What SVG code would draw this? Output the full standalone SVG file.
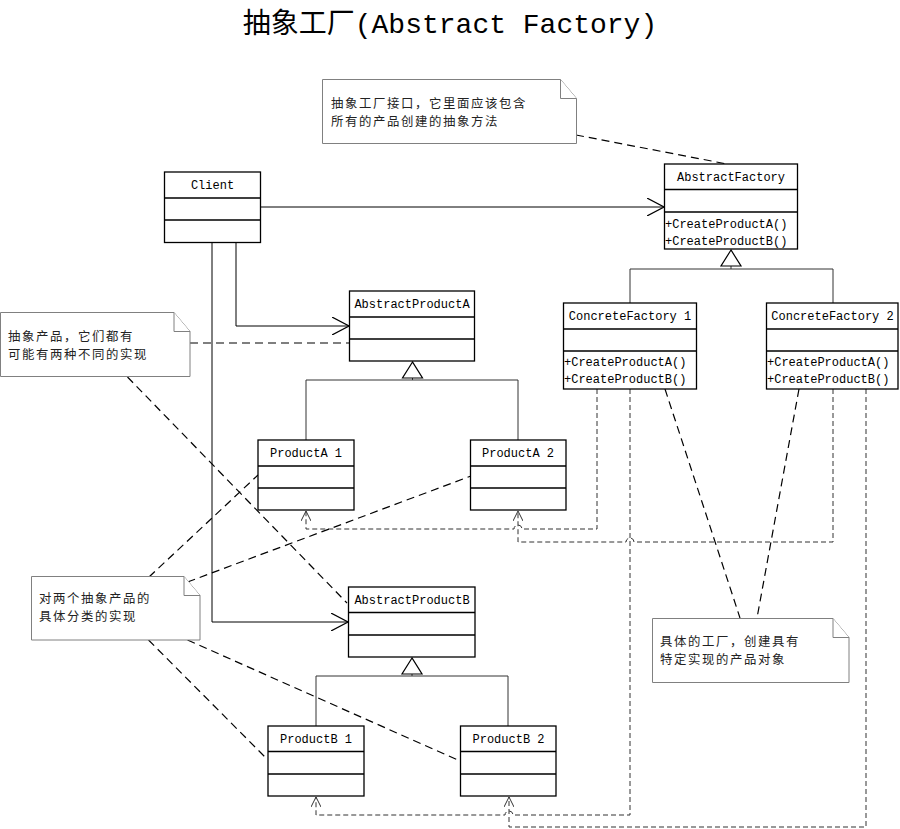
<svg xmlns="http://www.w3.org/2000/svg" width="900" height="829" viewBox="0 0 900 829">
<defs>
<style>
.box{fill:#fff;stroke:#000;stroke-width:1.3}
.div{stroke:#000;stroke-width:1.3}
.t{font-family:"Liberation Mono","Noto Sans CJK SC",monospace;font-size:12px;fill:#000}
.c{text-anchor:middle}
.note{fill:#fff;stroke:#808080;stroke-width:1}
.nt{font-family:"Noto Sans CJK SC",sans-serif;font-size:12.4px;letter-spacing:1.6px;fill:#222}
.assoc{fill:none;stroke:#000;stroke-width:1}
.gen{fill:none;stroke:#333;stroke-width:1}
.tri{fill:#fff;stroke:#000;stroke-width:1.2}
.dep{fill:none;stroke:#333;stroke-width:1;stroke-dasharray:5,3}
.nl{fill:none;stroke:#000;stroke-width:1.2;stroke-dasharray:8,5}
</style>
<marker id="big" markerUnits="userSpaceOnUse" viewBox="0 0 17 18" refX="17" refY="9" markerWidth="17" markerHeight="18" orient="auto">
<path d="M0,0 L17,9 L0,18" fill="none" stroke="#000" stroke-width="1.2" stroke-dasharray="none"/>
</marker>
<marker id="small" markerUnits="userSpaceOnUse" viewBox="0 0 10 10" refX="10" refY="5" markerWidth="10" markerHeight="10" orient="auto">
<path d="M0,0 L10,5 L0,10" fill="none" stroke="#333" stroke-width="1" stroke-dasharray="none"/>
</marker>
</defs>
<rect width="900" height="829" fill="#fff"/>
<text x="450" y="33" text-anchor="middle" style="font-family:'Liberation Mono','Noto Sans CJK SC',monospace;font-size:28px;fill:#000">抽象工厂(Abstract Factory)</text>

<g id="connectors">
<path class="assoc" d="M261,207 H664" marker-end="url(#big)"/>
<path class="assoc" d="M236,242 V326 H349" marker-end="url(#big)"/>
<path class="assoc" d="M212,242 V622 H348" marker-end="url(#big)"/>
<path class="gen" d="M731,266 V269 M630,303 V269 H833 V303"/>
<polygon class="tri" points="731,250 721,266 741,266"/>
<path class="gen" d="M412.5,378 V380 M306,440 V380 H518 V440"/>
<polygon class="tri" points="412.5,362 402.5,378 422.5,378"/>
<path class="gen" d="M412,674 V676 M316,726 V676 H508 V726"/>
<polygon class="tri" points="412,658 402,674 422,674"/>
<path class="dep" d="M597,389 V529 H522 A4,4 0 0 0 514,529 H306 V511" marker-end="url(#small)"/>
<path class="dep" d="M833,389 V542 H634 A4,4 0 0 0 626,542 H518 V511" marker-end="url(#small)"/>
<path class="dep" d="M630,389 V815 H513 A4,4 0 0 0 505,815 H316 V797" marker-end="url(#small)"/>
<path class="dep" d="M866,389 V827 H509 V797" marker-end="url(#small)"/>
<path class="nl" d="M576,135 L727,164"/>
<path class="nl" d="M190,343 H349"/>
<path class="nl" d="M127.5,377 L347,603"/>
<path class="nl" d="M149,577 L258,475"/>
<path class="nl" d="M187.5,582 L471,476"/>
<path class="nl" d="M148.5,640 L265,757"/>
<path class="nl" d="M187.5,640 L460,761"/>
<path class="nl" d="M665,389 L740,618"/>
<path class="nl" d="M799,389 L757,618"/>
</g>

<g id="note-abstract-factory">
<path class="note" d="M322.5,79.5 H560.5 L576.5,98.5 V143.5 H322.5 Z"/>
<path class="note" d="M560.5,79.5 V98.5 H576.5" fill="none"/>
<text class="nt" x="331" y="107.5">抽象工厂接口，它里面应该包含</text>
<text class="nt" x="331" y="125.5">所有的产品创建的抽象方法</text>
</g>
<g id="note-abstract-product">
<path class="note" d="M0.5,312.5 H174 L190,331.5 V376.5 H0.5 Z"/>
<path class="note" d="M174,312.5 V331.5 H190" fill="none"/>
<text class="nt" x="8" y="340.5">抽象产品，它们都有</text>
<text class="nt" x="8" y="358.5">可能有两种不同的实现</text>
</g>
<g id="note-concrete-products">
<path class="note" d="M31.5,576.5 H184 L200,595.5 V640 H31.5 Z"/>
<path class="note" d="M184,576.5 V595.5 H200" fill="none"/>
<text class="nt" x="39" y="603">对两个抽象产品的</text>
<text class="nt" x="39" y="621">具体分类的实现</text>
</g>
<g id="note-concrete-factory">
<path class="note" d="M652.5,618.5 H833 L849,637.5 V682.5 H652.5 Z"/>
<path class="note" d="M833,618.5 V637.5 H849" fill="none"/>
<text class="nt" x="660" y="645.5">具体的工厂，创建具有</text>
<text class="nt" x="660" y="663.5">特定实现的产品对象</text>
</g>

<g id="Client">
<rect class="box" x="164.5" y="172" width="96" height="70.5"/>
<path class="div" d="M164.5,198 H260.5 M164.5,220 H260.5"/>
<text class="t c" x="212.5" y="189">Client</text>
</g>
<g id="AbstractFactory">
<rect class="box" x="664.5" y="164" width="133" height="85"/>
<path class="div" d="M664.5,189.5 H797.5 M664.5,212 H797.5"/>
<text class="t c" x="731" y="181">AbstractFactory</text>
<text class="t" x="665" y="227.5">+CreateProductA()</text>
<text class="t" x="665" y="245">+CreateProductB()</text>
</g>
<g id="ConcreteFactory1">
<rect class="box" x="563.5" y="303" width="133" height="86"/>
<path class="div" d="M563.5,329 H696.5 M563.5,351 H696.5"/>
<text class="t c" x="630" y="320">ConcreteFactory 1</text>
<text class="t" x="564" y="366">+CreateProductA()</text>
<text class="t" x="564" y="382.5">+CreateProductB()</text>
</g>
<g id="ConcreteFactory2">
<rect class="box" x="766.5" y="303" width="131.5" height="86"/>
<path class="div" d="M766.5,329 H898 M766.5,351 H898"/>
<text class="t c" x="832.5" y="320">ConcreteFactory 2</text>
<text class="t" x="767" y="366">+CreateProductA()</text>
<text class="t" x="767" y="382.5">+CreateProductB()</text>
</g>
<g id="AbstractProductA">
<rect class="box" x="349.5" y="291" width="125" height="70"/>
<path class="div" d="M349.5,317 H474.5 M349.5,339 H474.5"/>
<text class="t c" x="412" y="308">AbstractProductA</text>
</g>
<g id="ProductA1">
<rect class="box" x="258" y="440" width="96" height="70"/>
<path class="div" d="M258,466 H354 M258,488 H354"/>
<text class="t c" x="306" y="457">ProductA 1</text>
</g>
<g id="ProductA2">
<rect class="box" x="470.5" y="440" width="95.5" height="70"/>
<path class="div" d="M470.5,466 H566 M470.5,488 H566"/>
<text class="t c" x="518" y="457">ProductA 2</text>
</g>
<g id="AbstractProductB">
<rect class="box" x="348.5" y="587" width="126.5" height="70"/>
<path class="div" d="M348.5,612.5 H475 M348.5,635 H475"/>
<text class="t c" x="412" y="604">AbstractProductB</text>
</g>
<g id="ProductB1">
<rect class="box" x="268" y="726" width="96" height="70"/>
<path class="div" d="M268,751.5 H364 M268,774 H364"/>
<text class="t c" x="316" y="743">ProductB 1</text>
</g>
<g id="ProductB2">
<rect class="box" x="460.5" y="726" width="95.5" height="70"/>
<path class="div" d="M460.5,751.5 H556 M460.5,774 H556"/>
<text class="t c" x="508.5" y="743">ProductB 2</text>
</g>
</svg>
